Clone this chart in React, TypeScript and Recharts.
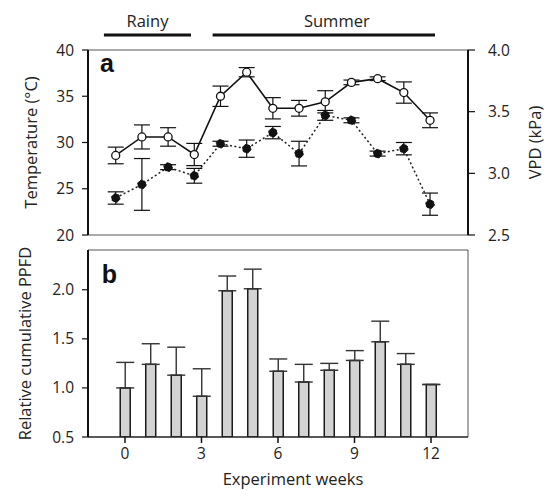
import {
  ComposedChart,
  Line,
  Bar,
  XAxis,
  YAxis,
  ErrorBar,
  ReferenceLine,
} from 'recharts';

const weeks = [0, 1, 2, 3, 4, 5, 6, 7, 8, 9, 10, 11, 12];

// panel a: temperature (open circles, solid) and VPD (filled circles, dotted)
const tempMean = [28.6, 30.6, 30.6, 28.7, 35.0, 37.6, 33.7, 33.7, 34.4, 36.5, 36.9, 35.4, 32.4];
const tempErr = [0.9, 1.3, 1.0, 1.2, 1.1, 0.5, 1.15, 0.85, 1.2, 0.25, 0.2, 1.15, 0.8];
const vpdMean = [2.8, 2.91, 3.05, 2.98, 3.24, 3.2, 3.33, 3.16, 3.47, 3.43, 3.16, 3.2, 2.75];
const vpdErr = [0.05, 0.21, 0.02, 0.06, 0.02, 0.07, 0.05, 0.1, 0.04, 0.02, 0.02, 0.05, 0.09];

// panel b: relative cumulative PPFD
const ppfdMean = [1.0, 1.24, 1.13, 0.915, 1.99, 2.01, 1.17, 1.06, 1.18, 1.28, 1.47, 1.24, 1.035];
const ppfdErr = [0.26, 0.21, 0.285, 0.28, 0.15, 0.2, 0.125, 0.18, 0.07, 0.1, 0.21, 0.11, 0];

const tempTicks = [20, 25, 30, 35, 40];
const vpdTicks = [2.5, 3.0, 3.5, 4.0];
const ppfdTicks = [0.5, 1.0, 1.5, 2.0];
const weekTicks = [0, 3, 6, 9, 12];

const font = "'Open Sans', sans-serif";
const tickStyle = { fontSize: 15.5, fill: '#222', fontFamily: font };
const labelStyle = { fontSize: 16.5, fill: '#222', fontFamily: font, textAnchor: 'middle' as const };

const topData = weeks.map((w, i) => ({
  week: w,
  temp: tempMean[i],
  tempErr: tempErr[i],
  vpd: vpdMean[i],
  vpdErr: vpdErr[i],
}));

const barData = weeks.map((w, i) => ({
  week: w,
  ppfd: ppfdMean[i],
  ppfdErr: [0, ppfdErr[i]],
}));

const panelLetter = (top: number, left: number): React.CSSProperties => ({
  position: 'absolute',
  top,
  left,
  fontFamily: "'Liberation Sans', Arial, sans-serif",
  fontWeight: 'bold',
  fontSize: 25,
  lineHeight: 1,
  color: '#111',
});

export default function App() {
  return (
    <div style={{ position: 'absolute', left: 0, top: 0, width: 547, height: 490, background: '#fff' }}>
      <div style={{ position: 'absolute', left: 0, top: 0 }}>
        <ComposedChart
          width={547}
          height={250}
          data={topData}
          margin={{ top: 50, right: 0, bottom: 15, left: 0 }}
        >
          <XAxis dataKey="week" type="number" domain={[-1.058, 13.45]} allowDataOverflow hide />
          <YAxis
            yAxisId="t"
            orientation="left"
            width={88}
            domain={[20, 40]}
            ticks={tempTicks}
            allowDataOverflow
            tick={tickStyle}
            tickSize={6}
            tickMargin={8}
            axisLine={{ stroke: '#111', strokeWidth: 2 }}
            tickLine={{ stroke: '#111', strokeWidth: 1.2 }}
            label={{ value: 'Temperature (°C)', angle: -90, position: 'insideLeft', offset: 25, dx: 6, style: labelStyle }}
          />
          <YAxis
            yAxisId="v"
            orientation="right"
            width={79}
            domain={[2.5, 4.0]}
            ticks={vpdTicks}
            allowDataOverflow
            tickFormatter={(v: number) => v.toFixed(1)}
            tick={tickStyle}
            tickSize={7}
            tickMargin={13}
            axisLine={{ stroke: '#111', strokeWidth: 2 }}
            tickLine={{ stroke: '#111', strokeWidth: 1.2 }}
            label={{ value: 'VPD (kPa)', angle: -90, position: 'insideRight', offset: 12, style: labelStyle }}
          />
          <ReferenceLine yAxisId="t" y={40} stroke="#555" strokeWidth={1} />
          <ReferenceLine yAxisId="t" y={20} stroke="#555" strokeWidth={1} />
          <ReferenceLine
            yAxisId="t"
            ifOverflow="visible"
            segment={[{ x: -0.45, y: 41.62 }, { x: 2.875, y: 41.62 }]}
            stroke="#111"
            strokeWidth={3}
            label={{ value: 'Rainy', position: 'top', offset: 8, style: { ...labelStyle } }}
          />
          <ReferenceLine
            yAxisId="t"
            ifOverflow="visible"
            segment={[{ x: 3.7, y: 41.62 }, { x: 12.19, y: 41.62 }]}
            stroke="#111"
            strokeWidth={3}
            label={{ value: 'Summer', position: 'top', offset: 8, dx: 13, style: { ...labelStyle } }}
          />
          <Line
            yAxisId="v"
            dataKey="vpd"
            type="linear"
            stroke="#222"
            strokeWidth={1.5}
            strokeDasharray="2 2.5"
            dot={{ r: 4.3, fill: '#111', stroke: '#111', strokeWidth: 1 }}
            isAnimationActive={false}
          >
            <ErrorBar dataKey="vpdErr" direction="y" width={8} stroke="#111" strokeWidth={1.2} />
          </Line>
          <Line
            yAxisId="t"
            dataKey="temp"
            type="linear"
            stroke="#111"
            strokeWidth={1.6}
            dot={{ r: 4, fill: '#fff', stroke: '#111', strokeWidth: 1.3 }}
            isAnimationActive={false}
          >
            <ErrorBar dataKey="tempErr" direction="y" width={8} stroke="#111" strokeWidth={1.2} />
          </Line>
        </ComposedChart>
      </div>
      <div style={panelLetter(50.5, 100)}>a</div>

      <div style={{ position: 'absolute', left: 0, top: 240 }}>
        <ComposedChart
          width={547}
          height={250}
          data={barData}
          margin={{ top: 10, right: 79, bottom: 0, left: 0 }}
        >
          <XAxis
            dataKey="week"
            type="number"
            domain={[-1.45, 13.45]}
            allowDataOverflow
            ticks={weekTicks}
            height={53}
            tick={tickStyle}
            tickSize={6}
            tickMargin={5}
            axisLine={{ stroke: '#222', strokeWidth: 1.6 }}
            tickLine={{ stroke: '#111', strokeWidth: 1.5 }}
            label={{ value: 'Experiment weeks', position: 'insideBottom', offset: 5, dx: 15, style: labelStyle }}
          />
          <YAxis
            width={88}
            domain={[0.5, 2.405]}
            ticks={ppfdTicks}
            allowDataOverflow
            tickFormatter={(v: number) => v.toFixed(1)}
            tick={tickStyle}
            tickSize={6}
            tickMargin={8}
            axisLine={{ stroke: '#111', strokeWidth: 2 }}
            tickLine={{ stroke: '#111', strokeWidth: 1.2 }}
            label={{ value: 'Relative cumulative PPFD', angle: -90, position: 'insideLeft', offset: 25, style: labelStyle }}
          />
          <ReferenceLine y={2.405} stroke="#555" strokeWidth={1} />
          <ReferenceLine x={13.45} stroke="#555" strokeWidth={1} />
          <Bar
            dataKey="ppfd"
            barSize={10}
            fill="#d3d3d3"
            stroke="#1a1a1a"
            strokeWidth={1.5}
            isAnimationActive={false}
          >
            <ErrorBar dataKey="ppfdErr" direction="y" width={9} stroke="#333" strokeWidth={1.4} />
          </Bar>
        </ComposedChart>
      </div>
      <div style={panelLetter(262, 101.7)}>b</div>
    </div>
  );
}
